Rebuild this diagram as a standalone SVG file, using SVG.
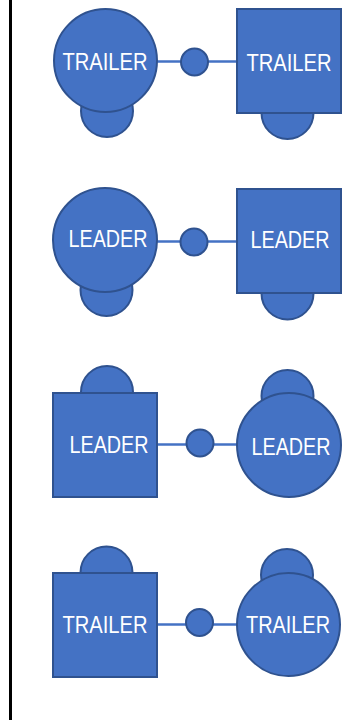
<svg xmlns="http://www.w3.org/2000/svg" width="360" height="720" viewBox="0 0 360 720">
<style>
.s{fill:#4472C4;stroke:#2F528F;stroke-width:2}
.c{stroke:#4472C4;stroke-width:2.5;fill:none}
.t{fill:#fff;font-family:"Liberation Sans",Arial,sans-serif;font-size:23.5px;text-anchor:middle}
</style>
<rect width="360" height="720" fill="#fff"/>
<line x1="10.5" y1="0" x2="10.5" y2="720" stroke="#000" stroke-width="3"/>
<g id="connectors">
<line class="c" x1="157" y1="61.5" x2="237" y2="61.5"/>
<line class="c" x1="157" y1="241.5" x2="237" y2="241.5"/>
<line class="c" x1="157" y1="444.5" x2="237" y2="444.5"/>
<line class="c" x1="157" y1="624.5" x2="237" y2="624.5"/>
<circle class="s" cx="194.5" cy="62" r="13.5"/>
<circle class="s" cx="194" cy="242" r="13.5"/>
<circle class="s" cx="200" cy="443" r="13.5"/>
<circle class="s" cx="199.5" cy="622.5" r="13.5"/>
</g>
<g id="n1">
<circle class="s" cx="107" cy="111" r="26"/>
<circle class="s" cx="105.5" cy="60.5" r="51.5"/>
<text class="t" x="105" y="70" textLength="85" lengthAdjust="spacingAndGlyphs">TRAILER</text>
</g>
<g id="n2">
<circle class="s" cx="287.5" cy="113" r="26"/>
<rect class="s" x="237" y="9" width="104" height="104"/>
<text class="t" x="289" y="71" textLength="85" lengthAdjust="spacingAndGlyphs">TRAILER</text>
</g>
<g id="n3">
<circle class="s" cx="106.5" cy="290" r="26"/>
<circle class="s" cx="105" cy="240" r="52"/>
<text class="t" x="108" y="247" textLength="79" lengthAdjust="spacingAndGlyphs">LEADER</text>
</g>
<g id="n4">
<circle class="s" cx="287.5" cy="293.5" r="26"/>
<rect class="s" x="237" y="189" width="104" height="104"/>
<text class="t" x="290" y="248" textLength="79" lengthAdjust="spacingAndGlyphs">LEADER</text>
</g>
<g id="n5">
<circle class="s" cx="107" cy="392" r="26"/>
<rect class="s" x="53" y="393" width="104" height="104"/>
<text class="t" x="109" y="453" textLength="79" lengthAdjust="spacingAndGlyphs">LEADER</text>
</g>
<g id="n6">
<circle class="s" cx="287.5" cy="396" r="26"/>
<circle class="s" cx="289" cy="445" r="52"/>
<text class="t" x="291" y="455" textLength="79" lengthAdjust="spacingAndGlyphs">LEADER</text>
</g>
<g id="n7">
<circle class="s" cx="106.5" cy="572.5" r="26"/>
<rect class="s" x="53" y="573" width="104" height="104"/>
<text class="t" x="105" y="633" textLength="85" lengthAdjust="spacingAndGlyphs">TRAILER</text>
</g>
<g id="n8">
<circle class="s" cx="287" cy="575" r="26"/>
<circle class="s" cx="288.5" cy="624.5" r="51.5"/>
<text class="t" x="288" y="633" textLength="84" lengthAdjust="spacingAndGlyphs">TRAILER</text>
</g>
</svg>
